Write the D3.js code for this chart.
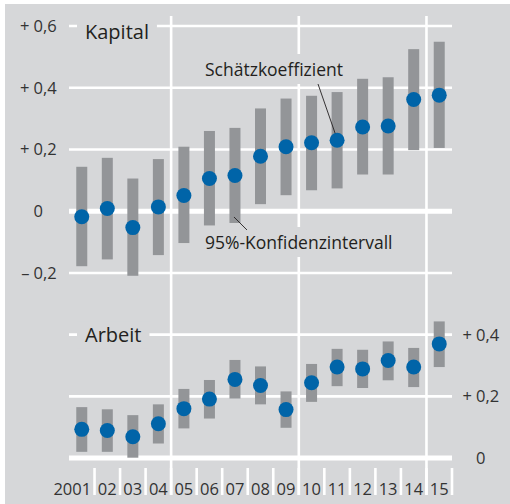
<!DOCTYPE html>
<html>
<head>
<meta charset="utf-8">
<script src="https://cdn.jsdelivr.net/npm/d3@7"></script>
<style>
body { margin: 0; background: #fff; }
text { font-family: "Open Sans", sans-serif; }
</style>
</head>
<body>
<div id="c"></div>
<script>
var years = ["2001","02","03","04","05","06","07","08","09","10","11","12","13","14","15"];

// Kapital: coefficient and 95% interval
var kap_coef = [-0.018, 0.009, -0.053, 0.014, 0.051, 0.106, 0.116, 0.178, 0.209, 0.222, 0.23, 0.273, 0.276, 0.362, 0.376];
var kap_low  = [-0.178, -0.156, -0.209, -0.142, -0.103, -0.046, -0.038, 0.023, 0.052, 0.068, 0.074, 0.119, 0.119, 0.198, 0.205];
var kap_high = [0.144, 0.173, 0.106, 0.169, 0.209, 0.26, 0.27, 0.333, 0.365, 0.374, 0.386, 0.429, 0.434, 0.525, 0.549];

// Arbeit
var arb_coef = [0.093, 0.089, 0.069, 0.111, 0.16, 0.191, 0.255, 0.235, 0.157, 0.244, 0.295, 0.289, 0.316, 0.295, 0.37];
var arb_low  = [0.02, 0.02, 0.001, 0.047, 0.096, 0.128, 0.193, 0.174, 0.098, 0.182, 0.233, 0.227, 0.252, 0.23, 0.295];
var arb_high = [0.165, 0.158, 0.139, 0.174, 0.224, 0.253, 0.318, 0.297, 0.216, 0.305, 0.354, 0.351, 0.378, 0.357, 0.443];

var kap_ticks = [-0.2, 0, 0.2, 0.4, 0.6];
var kap_tick_labels = ["\u2013 0,2", "0", "+ 0,2", "+ 0,4", "+ 0,6"];
var arb_ticks = [0, 0.2, 0.4];
var arb_tick_labels = ["0", "+ 0,2", "+ 0,4"];

var width = 510, height = 504;
var bg = "#d6d7d9";
var bar_col = "#939598";
var dot_col = "#0064a8";
var txt_col = "#231f20";

var svg = d3.select("#c").append("svg")
	.attr("width", width)
	.attr("height", height);

svg.append("rect")
	.attr("x", 5).attr("y", 4)
	.attr("width", width - 5).attr("height", height - 4)
	.attr("fill", bg);

var x = d3.scaleBand().domain(years).range([69, 452]);
var yK = d3.scaleLinear().domain([-0.2, 0.6]).range([273, 26]);
var yA = d3.scaleLinear().domain([0, 0.6]).range([458, 273]);
var xc = function(d) { return x(d) + x.bandwidth() / 2; };

// horizontal grid
function hgrid(ticks, y) {
	svg.append("g").selectAll("line")
		.data(ticks)
		.enter().append("line")
		.attr("x1", x.range()[0]).attr("x2", x.range()[1])
		.attr("y1", function(d) { return y(d); })
		.attr("y2", function(d) { return y(d); })
		.attr("stroke", "#fff")
		.attr("stroke-width", function(d) { return d === 0 ? 5 : 2.6; });
}
hgrid(kap_ticks, yK);
hgrid(arb_ticks, yA);

// vertical separators 04|05, 09|10, 14|15
svg.append("g").selectAll("line")
	.data(["05", "10", "15"])
	.enter().append("line")
	.attr("x1", function(d) { return x(d); })
	.attr("x2", function(d) { return x(d); })
	.attr("y1", 16).attr("y2", 495)
	.attr("stroke", "#fff").attr("stroke-width", 2.6);

// small ticks between year labels
svg.append("g").selectAll("line")
	.data(years.slice(1).concat(["end"]))
	.enter().append("line")
	.attr("x1", function(d, i) { return x.range()[0] + (i + 1) * x.step(); })
	.attr("x2", function(d, i) { return x.range()[0] + (i + 1) * x.step(); })
	.attr("y1", 468).attr("y2", 495)
	.attr("stroke", "#fff").attr("stroke-width", 2.6);

// text with a background box that cuts the grid lines
function boxed_text(tx, ty, str, size, padx, pady) {
	var g = svg.append("g");
	var r = g.append("rect").attr("fill", bg);
	var t = g.append("text")
		.attr("x", tx).attr("y", ty)
		.attr("font-size", size)
		.attr("fill", txt_col)
		.text(str);
	var b = t.node().getBBox();
	r.attr("x", b.x - padx).attr("y", b.y - pady)
		.attr("width", b.width + 2 * padx).attr("height", b.height + 2 * pady);
	return g;
}

boxed_text(85, yK(0.6) + 12.5, "Kapital", 20, 8, 0);
boxed_text(85, yA(0.4) + 7.5, "Arbeit", 20, 8, 0);
boxed_text(205, 76, "Schätzkoeffizient", 17.5, 6, 3);
boxed_text(205, 249, "95%-Konfidenzintervall", 17.5, 6, 3);

// bars and dots
function panel(coef, low, high, y) {
	var g = svg.append("g");
	g.selectAll("rect")
		.data(years)
		.enter().append("rect")
		.attr("x", function(d) { return xc(d) - 5.5; })
		.attr("width", 11)
		.attr("y", function(d, i) { return y(high[i]); })
		.attr("height", function(d, i) { return y(low[i]) - y(high[i]); })
		.attr("fill", bar_col);
	g.selectAll("circle")
		.data(years)
		.enter().append("circle")
		.attr("cx", function(d) { return xc(d); })
		.attr("cy", function(d, i) { return y(coef[i]); })
		.attr("r", 7.5)
		.attr("fill", dot_col);
}
panel(kap_coef, kap_low, kap_high, yK);
panel(arb_coef, arb_low, arb_high, yA);

// leader lines
svg.append("line")
	.attr("x1", 318).attr("y1", 84)
	.attr("x2", xc("11") - 2).attr("y2", yK(kap_coef[10]) - 7)
	.attr("stroke", txt_col).attr("stroke-width", 0.9);
svg.append("line")
	.attr("x1", xc("07") - 1).attr("y1", yK(kap_low[6]) - 6)
	.attr("x2", xc("07") + 12).attr("y2", yK(kap_low[6]) + 7)
	.attr("stroke", txt_col).attr("stroke-width", 0.9);

// axis labels: sign set to the left of the digits so zeros line up
function tick_labels(ticks, labels, y, xnum) {
	var g = svg.append("g").attr("font-size", 16.5).attr("fill", "#333");
	ticks.forEach(function(v, i) {
		var parts = labels[i].split(" ");
		var num = parts[parts.length - 1];
		g.append("text").attr("x", xnum).attr("y", y(v)).attr("dy", "0.36em").text(num);
		if (parts.length > 1) {
			g.append("text").attr("x", xnum - 4).attr("y", y(v)).attr("dy", "0.36em")
				.attr("text-anchor", "end").text(parts[0]);
		}
	});
}
tick_labels(kap_ticks, kap_tick_labels, yK, 33.5);
tick_labels(arb_ticks, arb_tick_labels, yA, 476);

// year labels, last two digits centred on the band
svg.append("g").selectAll("text")
	.data(years)
	.enter().append("text")
	.attr("x", function(d) { return xc(d) + 9.4; })
	.attr("y", 495)
	.attr("text-anchor", "end")
	.attr("font-size", 16.5)
	.attr("fill", "#333")
	.text(function(d) { return d; });
</script>
</body>
</html>
